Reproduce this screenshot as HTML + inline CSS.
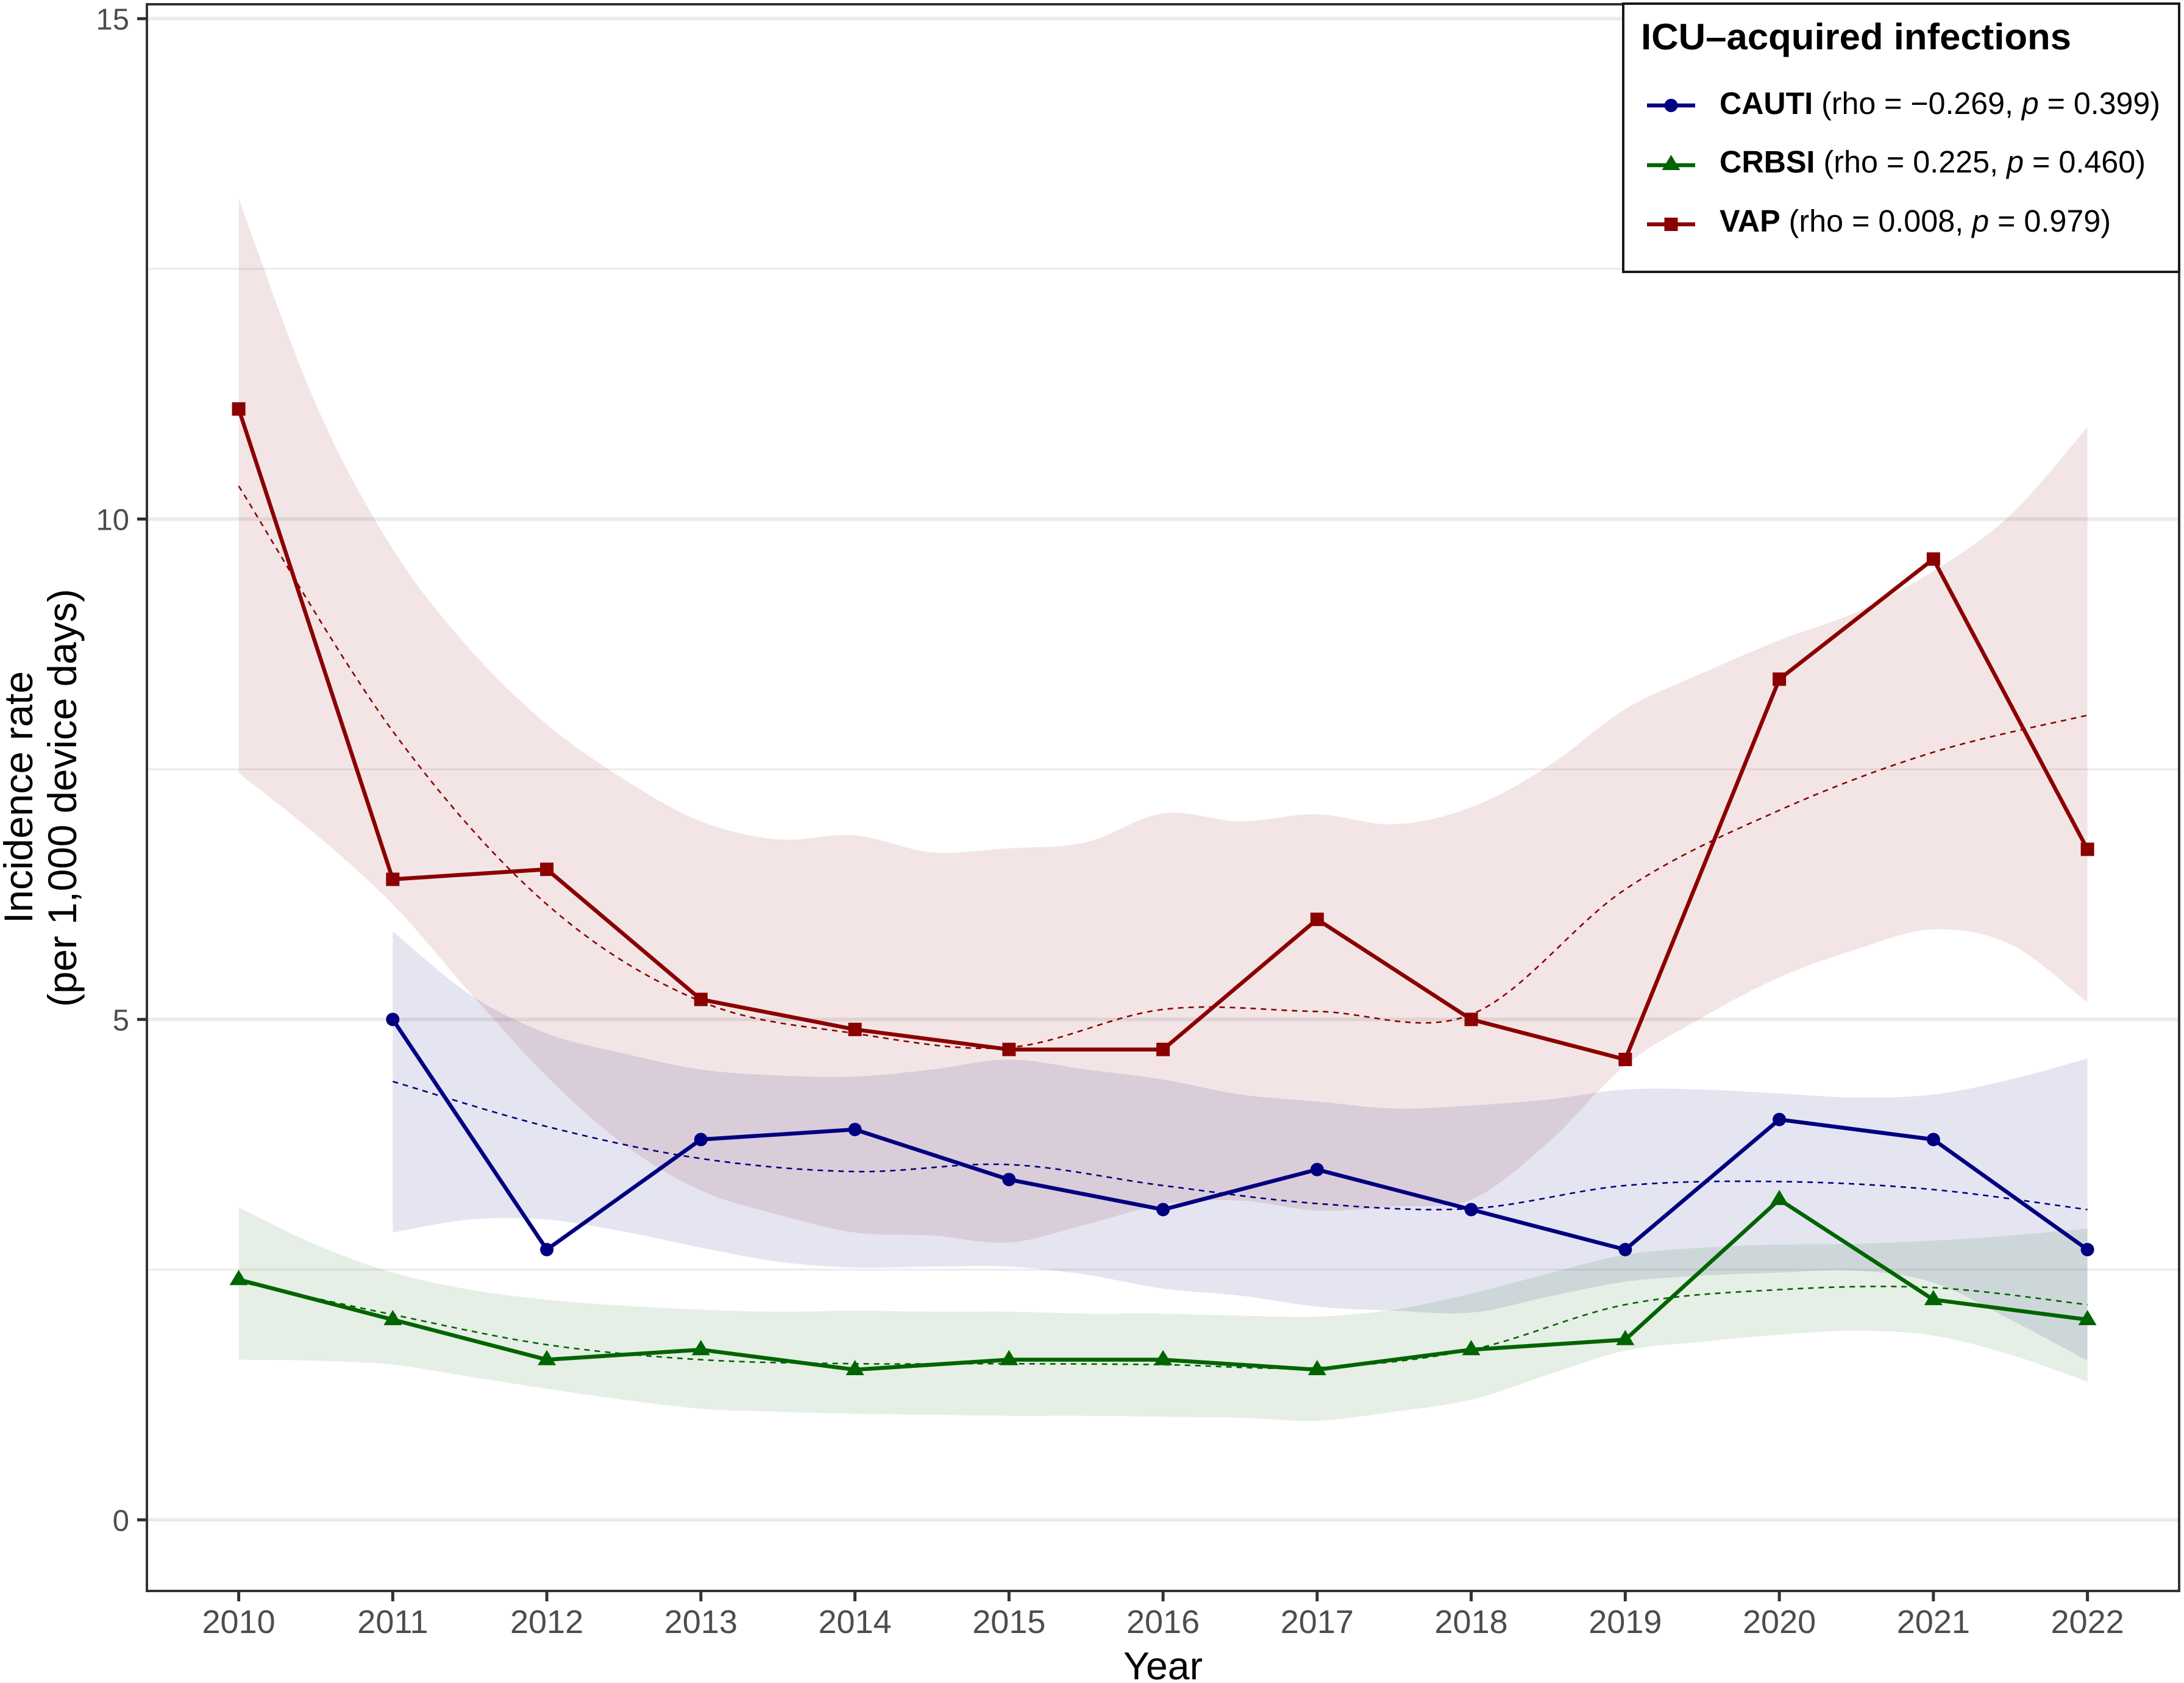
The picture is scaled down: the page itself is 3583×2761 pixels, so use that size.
<!DOCTYPE html>
<html lang="en">
<head>
<meta charset="utf-8">
<title>ICU-acquired infections incidence rate</title>
<style>
html,body{margin:0;padding:0;background:#fff;}
svg{display:block;}
text{font-family:"Liberation Sans",Arial,sans-serif;}
</style>
</head>
<body>
<svg id="chart" xmlns="http://www.w3.org/2000/svg" width="3583" height="2761" viewBox="0 0 3583 2761">
  <rect x="0" y="0" width="3583" height="2761" fill="#ffffff"/>
  <g id="grid"></g>
  <g id="bands"></g>
  <g id="smooths"></g>
  <g id="lines"></g>
  <g id="markers"></g>
  <rect x="241" y="7" width="3334" height="2603" fill="none" stroke="#333333" stroke-width="4"/>
  <g id="axes"></g>
  <text x="1908" y="2755" font-size="64" text-anchor="middle" textLength="130" lengthAdjust="spacingAndGlyphs" fill="#000">Year</text>
  <text transform="translate(53,1308) rotate(-90)" font-size="66" text-anchor="middle" textLength="414" lengthAdjust="spacingAndGlyphs" fill="#000">Incidence rate</text>
  <text transform="translate(125,1309) rotate(-90)" font-size="66" text-anchor="middle" textLength="686" lengthAdjust="spacingAndGlyphs" fill="#000">(per 1,000 device days)</text>

  <g>
    <rect x="2663" y="6" width="912" height="440" fill="#ffffff" stroke="#1a1a1a" stroke-width="4"/>
    <text x="2692" y="81" font-size="60" font-weight="700" textLength="706" lengthAdjust="spacingAndGlyphs" fill="#000">ICU–acquired infections</text>

    <g>
      <line x1="2702" x2="2781" y1="173" y2="173" stroke="#000080" stroke-width="6.5"/>
      <circle cx="2741.5" cy="173" r="11" fill="#000080"/>
      <text x="2821" y="187" font-size="51" textLength="723" lengthAdjust="spacingAndGlyphs" fill="#000"><tspan font-weight="700">CAUTI</tspan> (rho = −0.269, <tspan font-style="italic">p</tspan> = 0.399)</text>
    </g>
    <g>
      <line x1="2702" x2="2781" y1="271" y2="271" stroke="#006400" stroke-width="6.5"/>
      <polygon points="2741.5,254 2756.5,279 2726.5,279" fill="#006400"/>
      <text x="2821" y="283" font-size="51" textLength="699" lengthAdjust="spacingAndGlyphs" fill="#000"><tspan font-weight="700">CRBSI</tspan> (rho = 0.225, <tspan font-style="italic">p</tspan> = 0.460)</text>
    </g>
    <g>
      <line x1="2702" x2="2781" y1="368" y2="368" stroke="#8b0000" stroke-width="6.5"/>
      <rect x="2730.5" y="357" width="22" height="22" fill="#8b0000"/>
      <text x="2821" y="380" font-size="51" textLength="642" lengthAdjust="spacingAndGlyphs" fill="#000"><tspan font-weight="700">VAP</tspan> (rho = 0.008, <tspan font-style="italic">p</tspan> = 0.979)</text>
    </g>
  </g>
</svg>

<script>
// ---- chart data ----
const years = [2010,2011,2012,2013,2014,2015,2016,2017,2018,2019,2020,2021,2022];
const bandYearsFull = [2010,2010.5,2011,2011.5,2012,2012.5,2013,2013.5,2014,2014.5,2015,2015.5,2016,2016.5,2017,2017.5,2018,2018.5,2019,2019.5,2020,2020.5,2021,2021.5,2022];
const bandYearsCauti = [2011,2011.5,2012,2012.5,2013,2013.5,2014,2014.5,2015,2015.5,2016,2016.5,2017,2017.5,2018,2018.5,2019,2019.5,2020,2020.5,2021,2021.5,2022];
const yMajorTicks = [0,5,10,15];
const yMinorTicks = [2.5,7.5,12.5];

const vapValues   = [11.1,6.4,6.5,5.2,4.9,4.7,4.7,6.0,5.0,4.6,8.4,9.6,6.7];
const cautiValues = [null,5.0,2.7,3.8,3.9,3.4,3.1,3.5,3.1,2.7,4.0,3.8,2.7];
const crbsiValues = [2.4,2.0,1.6,1.7,1.5,1.6,1.6,1.5,1.7,1.8,3.2,2.2,2.0];

const vapSmooth   = [10.33,7.88,6.15,5.18,4.86,4.72,5.1,5.08,5.05,6.3,7.09,7.67,8.04];
const cautiSmooth = [null,4.38,3.93,3.61,3.48,3.55,3.34,3.16,3.11,3.34,3.38,3.3,3.1];
const crbsiSmooth = [2.38,2.05,1.75,1.6,1.56,1.56,1.55,1.52,1.7,2.15,2.3,2.32,2.15];

const vapUpper   = [13.2,11.15,9.7,8.7,7.95,7.4,6.98,6.8,6.84,6.67,6.71,6.77,7.06,6.98,7.05,6.95,7.12,7.53,8.1,8.46,8.79,9.07,9.48,10.04,10.92];
const vapLower   = [7.46,6.85,6.15,5.27,4.43,3.75,3.29,3.05,2.87,2.84,2.77,2.95,3.15,3.19,3.09,3.13,3.2,3.77,4.54,5.02,5.42,5.7,5.9,5.75,5.17];
const cautiUpper = [5.88,5.25,4.86,4.66,4.5,4.44,4.43,4.5,4.6,4.5,4.4,4.25,4.18,4.11,4.14,4.2,4.3,4.3,4.26,4.22,4.25,4.4,4.61];
const cautiLower = [2.87,3.0,3.0,2.88,2.72,2.58,2.52,2.53,2.53,2.45,2.31,2.24,2.13,2.09,2.07,2.23,2.38,2.44,2.47,2.49,2.37,2.0,1.59];
const crbsiUpper = [3.12,2.75,2.47,2.3,2.2,2.14,2.1,2.08,2.09,2.08,2.08,2.06,2.06,2.04,2.03,2.1,2.26,2.46,2.65,2.72,2.75,2.76,2.79,2.84,2.91];
const crbsiLower = [1.6,1.59,1.55,1.43,1.31,1.2,1.11,1.08,1.06,1.05,1.04,1.04,1.03,1.02,0.99,1.08,1.2,1.45,1.69,1.78,1.85,1.89,1.84,1.65,1.38];

// ---- axis functions ----
const NS = 'http://www.w3.org/2000/svg';
function xScale(year){ return 391.6 + (year - 2010) * 252.75; }
function yScale(v){ return 2493.3 - v * 164.18; }

function node(tag, attrs){
  const el = document.createElementNS(NS, tag);
  for (const k in attrs) el.setAttribute(k, attrs[k]);
  return el;
}
function toPoints(xs, vs){
  const pts = [];
  for (let i = 0; i < xs.length; i++){
    if (vs[i] === null) continue;
    pts.push([xScale(xs[i]), yScale(vs[i])]);
  }
  return pts;
}
function curve(pts, start){
  let d = (start ? 'M' : 'L') + pts[0][0].toFixed(1) + ' ' + pts[0][1].toFixed(1);
  for (let i = 0; i < pts.length - 1; i++){
    const p0 = pts[Math.max(i - 1, 0)], p1 = pts[i], p2 = pts[i + 1], p3 = pts[Math.min(i + 2, pts.length - 1)];
    const c1x = p1[0] + (p2[0] - p0[0]) / 6, c1y = p1[1] + (p2[1] - p0[1]) / 6;
    const c2x = p2[0] - (p3[0] - p1[0]) / 6, c2y = p2[1] - (p3[1] - p1[1]) / 6;
    d += 'C' + c1x.toFixed(1) + ' ' + c1y.toFixed(1) + ' ' + c2x.toFixed(1) + ' ' + c2y.toFixed(1) + ' ' + p2[0].toFixed(1) + ' ' + p2[1].toFixed(1);
  }
  return d;
}

const gridG = document.getElementById('grid');
const bandsG = document.getElementById('bands');
const smoothG = document.getElementById('smooths');
const linesG = document.getElementById('lines');
const markersG = document.getElementById('markers');
const axesG = document.getElementById('axes');

// gridlines
yMinorTicks.forEach(function(v){
  const l = node('line', {x1:243, x2:3573, y1:yScale(v), y2:yScale(v), stroke:'#ebebeb', 'stroke-width':3});
  
  
  gridG.appendChild(l);
});
yMajorTicks.forEach(function(v){
  const l = node('line', {x1:243, x2:3573, y1:yScale(v), y2:yScale(v), stroke:'#ebebeb', 'stroke-width':6});
  
  
  gridG.appendChild(l);
});

// confidence bands
function drawBand(name, xs, upper, lower, color){
  const up = toPoints(xs, upper);
  const lo = toPoints(xs, lower).reverse();
  const p = node('path', {d: curve(up, true) + curve(lo, false) + 'Z', fill:color, 'fill-opacity':0.1, stroke:'none'});
  
  
  bandsG.appendChild(p);
}
drawBand('band-vap', bandYearsFull, vapUpper, vapLower, '#8b0000');
drawBand('band-cauti', bandYearsCauti, cautiUpper, cautiLower, '#000080');
drawBand('band-crbsi', bandYearsFull, crbsiUpper, crbsiLower, '#006400');

// dashed smooth lines
function drawSmooth(name, vs, color){
  const p = node('path', {d: curve(toPoints(years, vs), true), fill:'none', stroke:color, 'stroke-width':2.6, 'stroke-dasharray':'9 8'});
  
  
  smoothG.appendChild(p);
}
drawSmooth('smooth-vap', vapSmooth, '#8b0000');
drawSmooth('smooth-cauti', cautiSmooth, '#000080');
drawSmooth('smooth-crbsi', crbsiSmooth, '#006400');

// series lines
function drawLine(name, vs, color){
  const pts = toPoints(years, vs).map(function(p){ return p[0].toFixed(1) + ',' + p[1].toFixed(1); }).join(' ');
  const l = node('polyline', {points:pts, fill:'none', stroke:color, 'stroke-width':6.5, 'stroke-linejoin':'round'});
  
  
  linesG.appendChild(l);
}
drawLine('line-vap', vapValues, '#8b0000');
drawLine('line-cauti', cautiValues, '#000080');
drawLine('line-crbsi', crbsiValues, '#006400');

// markers
toPoints(years, vapValues).forEach(function(p){
  const m = node('rect', {x:p[0]-11, y:p[1]-11, width:22, height:22, fill:'#8b0000'});
  
  
  markersG.appendChild(m);
});
toPoints(years, cautiValues).forEach(function(p){
  const m = node('circle', {cx:p[0], cy:p[1], r:11, fill:'#000080'});
  
  
  markersG.appendChild(m);
});
toPoints(years, crbsiValues).forEach(function(p){
  const pts = p[0] + ',' + (p[1]-16) + ' ' + (p[0]+15) + ',' + (p[1]+9) + ' ' + (p[0]-15) + ',' + (p[1]+9);
  const m = node('polygon', {points:pts, fill:'#006400'});
  
  
  markersG.appendChild(m);
});

// axis ticks and labels
years.forEach(function(yr){
  const t = node('line', {x1:xScale(yr), x2:xScale(yr), y1:2610, y2:2627, stroke:'#333333', 'stroke-width':5});
  
  
  axesG.appendChild(t);
  const lab = node('text', {x:xScale(yr), y:2679, 'font-size':54, 'text-anchor':'middle', fill:'#4d4d4d'});
  
  
  lab.textContent = String(yr);
  axesG.appendChild(lab);
});
yMajorTicks.forEach(function(v){
  const t = node('line', {x1:225, x2:241, y1:yScale(v), y2:yScale(v), stroke:'#333333', 'stroke-width':5});
  
  
  axesG.appendChild(t);
  const lab = node('text', {x:212, y:yScale(v)+18, 'font-size':49, 'text-anchor':'end', fill:'#4d4d4d'});
  
  
  lab.textContent = String(v);
  axesG.appendChild(lab);
});
</script>
</body>
</html>
